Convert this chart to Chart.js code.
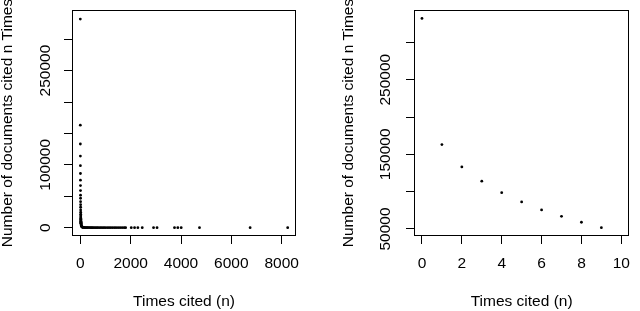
<!DOCTYPE html>
<html>
<head>
<meta charset="utf-8">
<script src="https://cdn.jsdelivr.net/npm/chart.js@4.4.1/dist/chart.umd.min.js"></script>
<style>
  html, body { margin: 0; padding: 0; background: #ffffff; }
  #wrap { display: flex; width: 640px; height: 311px; }
  canvas { display: block; }
</style>
</head>
<body>
<div id="wrap">
  <canvas id="left" width="320" height="311"></canvas>
  <canvas id="right" width="320" height="311"></canvas>
</div>
<script>
// documents cited n times, n = 0..30
const docsByN = [
  332100, 163100, 133200, 114000, 98700, 86200, 75500, 67000, 59000, 51700,
  46800, 41400, 36600, 32500, 28200, 24500, 21300, 18900, 16800, 15000,
  13500, 12200, 11100, 10100, 9300, 8500, 7800, 7200, 6700, 6200, 5800
];
// sparser part of the distribution (left panel only)
const tailCited = [
  35, 40, 45, 50, 60, 70, 80, 90, 100, 120, 150, 180, 210, 240, 270, 300,
  340, 380, 420, 460, 500, 550, 600, 650, 700, 760, 820, 880, 940, 1000,
  1070, 1140, 1210, 1280, 1350, 1420, 1500, 1580, 1660, 1740, 1800,
  2024, 2155, 2286, 2460, 2909, 3048, 3742, 3873, 4008, 4734, 6746, 8238
];
const tailDocs = [
  4300, 3400, 2700, 2200, 1600, 1200, 900, 700, 560, 300, 220, 160, 120, 95, 75, 60,
  48, 38, 30, 25, 21, 17, 14, 12, 10, 8, 7, 6, 5, 4,
  4, 3, 3, 2, 2, 2, 1, 1, 1, 1, 1,
  1, 1, 1, 1, 1, 1, 1, 1, 1, 1, 1, 1
];
const rightMaxN = 9;

const leftXTicks = [0, 2000, 4000, 6000, 8000];
const leftYTicks = [0, 50000, 100000, 150000, 200000, 250000, 300000];
const leftYLabels = [0, 100000, 250000];
const rightXTicks = [0, 2, 4, 6, 8, 10];
const rightYTicks = [50000, 100000, 150000, 200000, 250000, 300000];
const rightYLabels = [50000, 150000, 250000];

const X_TITLE = "Times cited (n)";
const Y_TITLE = "Number of documents cited n Times";

const FONT_FAMILY = '"Liberation Sans", Arial, Helvetica, sans-serif';
const FONT = { family: FONT_FAMILY, size: 15.5 };

// R style: box round the plot, rotated y labels and y title
const rAxes = {
  id: "rAxes",
  afterDraw(chart, args, opts) {
    const { ctx, chartArea, scales } = chart;
    ctx.save();
    ctx.strokeStyle = "#000";
    ctx.lineWidth = 1;
    const l = Math.round(chartArea.left) + 0.5;
    const t = Math.round(chartArea.top) + 0.5;
    const r = Math.round(chartArea.right) - 0.5;
    const b = Math.round(chartArea.bottom) - 0.5;
    ctx.strokeRect(l, t, r - l, b - t);

    ctx.fillStyle = "#000";
    ctx.font = FONT.size + "px " + FONT_FAMILY;
    ctx.textAlign = "center";
    ctx.textBaseline = "alphabetic";
    opts.labels.forEach((v) => {
      const y = scales.y.getPixelForValue(v);
      ctx.save();
      ctx.translate(opts.labelX, y);
      ctx.rotate(-Math.PI / 2);
      ctx.fillText(String(v), 0, 0);
      ctx.restore();
    });
    ctx.save();
    ctx.translate(opts.titleX, (chartArea.top + chartArea.bottom) / 2);
    ctx.rotate(-Math.PI / 2);
    ctx.fillText(Y_TITLE, 0, 0);
    ctx.restore();
    ctx.restore();
  },
};

function makeChart(id, points, cfg) {
  return new Chart(document.getElementById(id), {
    type: "scatter",
    data: {
      datasets: [{
        data: points,
        pointRadius: 1.4,
        pointHoverRadius: 1.4,
        pointBackgroundColor: "#000",
        pointBorderWidth: 0,
      }],
    },
    options: {
      responsive: false,
      animation: false,
      events: [],
      layout: { padding: { top: 10, right: cfg.padRight, bottom: 0, left: 0 } },
      plugins: {
        legend: { display: false },
        tooltip: { enabled: false },
        rAxes: { labels: cfg.yLabels, labelX: cfg.labelX, titleX: cfg.titleX },
      },
      scales: {
        x: {
          type: "linear",
          min: cfg.xMin,
          max: cfg.xMax,
          afterBuildTicks: (s) => { s.ticks = cfg.xTicks.map((v) => ({ value: v })); },
          afterFit: (s) => { s.height = 75; },
          grid: { drawOnChartArea: false, drawTicks: true, tickLength: 8, color: "#000", lineWidth: 1 },
          border: { display: false },
          ticks: { color: "#000", font: FONT, padding: 10, maxRotation: 0, autoSkip: false, callback: (v) => String(v) },
          title: { display: true, text: X_TITLE, color: "#000", font: FONT, padding: 0 },
        },
        y: {
          type: "linear",
          min: cfg.yMin,
          max: cfg.yMax,
          afterBuildTicks: (s) => { s.ticks = cfg.yTicks.map((v) => ({ value: v })); },
          afterFit: (s) => { s.width = cfg.yWidth; },
          grid: { drawOnChartArea: false, drawTicks: true, tickLength: 8, color: "#000", lineWidth: 1 },
          border: { display: false },
          ticks: { display: false },
        },
      },
    },
    plugins: [rAxes],
  });
}

const leftPoints = docsByN.map((d, n) => ({ x: n, y: d }))
  .concat(tailCited.map((c, i) => ({ x: c, y: tailDocs[i] })));
const rightPoints = docsByN.slice(0, rightMaxN + 1).map((d, n) => ({ x: n, y: d }));

makeChart("left", leftPoints, {
  xMin: -330, xMax: 8568, yMin: -13300, yMax: 346500,
  xTicks: leftXTicks, yTicks: leftYTicks, yLabels: leftYLabels,
  yWidth: 72, padRight: 24, labelX: 50, titleX: 12,
});
makeChart("right", rightPoints, {
  xMin: -0.4, xMax: 10.4, yMin: 40600, yMax: 343400,
  xTicks: rightXTicks, yTicks: rightYTicks, yLabels: rightYLabels,
  yWidth: 94, padRight: 2, labelX: 70, titleX: 33,
});
</script>
</body>
</html>
